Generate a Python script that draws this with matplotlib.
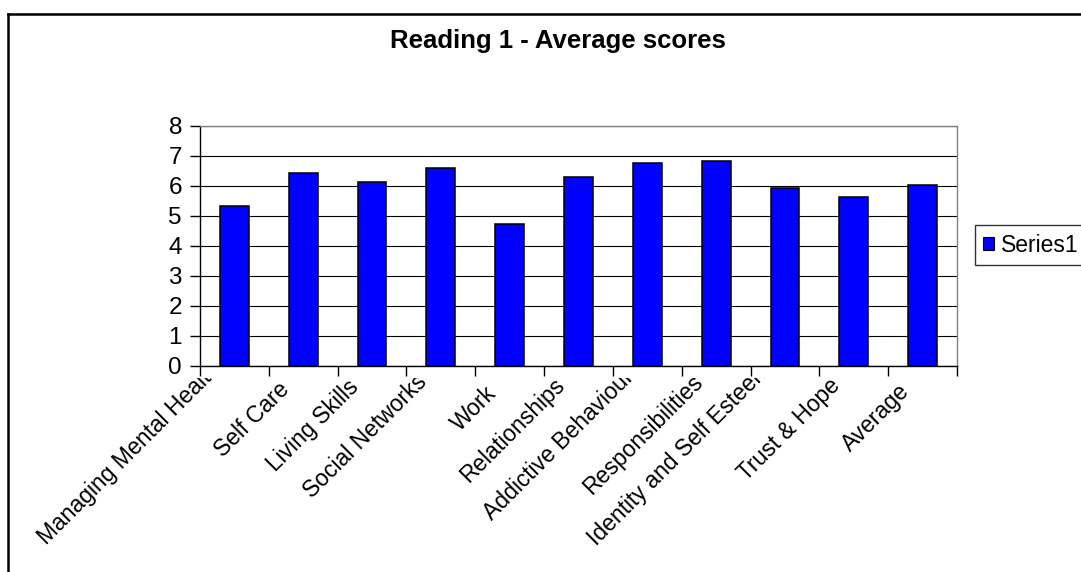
import matplotlib
matplotlib.use("Agg")
import matplotlib.pyplot as plt
import matplotlib.transforms as mtransforms
from matplotlib.lines import Line2D
from matplotlib.patches import Patch

categories = ["Managing Mental Health", "Self Care", "Living Skills", "Social Networks",
              "Work", "Relationships", "Addictive Behaviour", "Responsibilities",
              "Identity and Self Esteem", "Trust & Hope", "Average"]
scores = [5.33, 6.41, 6.11, 6.58, 4.74, 6.29, 6.77, 6.82, 5.92, 5.63, 6.04]
yticks = [0, 1, 2, 3, 4, 5, 6, 7, 8]

plt.rcParams['font.family'] = ['Liberation Sans', 'DejaVu Sans']

W, H = 1081, 572
fig = plt.figure(figsize=(W / 100, H / 100), dpi=100)
ax = fig.add_axes([200 / W, (H - 366) / H, 757 / W, 240.3 / H])

x = list(range(len(categories)))
ax.bar(x, scores, width=0.42, color='#0000FF', edgecolor='black', linewidth=1.1, zorder=3)

ax.set_xlim(-0.5, len(categories) - 0.5)
ax.set_ylim(0, 8)
ax.set_yticks(yticks)
ax.yaxis.grid(True, color='black', linewidth=0.8, zorder=0)

# category boundaries get the tick marks, centres get the labels
ax.set_xticks([i - 0.5 for i in range(len(categories) + 1)], minor=True)
ax.set_xticks(x)
ax.set_xticklabels(categories, rotation=45, ha='right', va='top',
                   rotation_mode='anchor', fontsize=16.5)
ax.tick_params(axis='x', which='major', length=0, pad=0)
ax.tick_params(axis='x', which='minor', length=7, width=1, direction='out')
ax.tick_params(axis='y', length=7, width=1, direction='out', labelsize=17.5, pad=6)

for side in ['top', 'right']:
    ax.spines[side].set_color('#808080')
for side in ['left', 'bottom']:
    ax.spines[side].set_color('black')
for sp in ax.spines.values():
    sp.set_linewidth(1)

fig.text(558 / W, (H - 41) / H, "Reading 1 - Average scores", ha='center', va='center',
         fontsize=18.5, fontweight='bold')

handle = Patch(facecolor='#0000FF', edgecolor='black', linewidth=0.8)
ax.legend([handle], ['Series1'], loc='center left',
          bbox_to_anchor=(975 / W, (H - 245) / H), bbox_transform=fig.transFigure,
          borderaxespad=0, fontsize=16.5, frameon=True, fancybox=False, edgecolor='black',
          handlelength=0.5, handleheight=0.5, handletextpad=0.3, borderpad=0.35)
ax.get_legend().get_frame().set_linewidth(1)

# outer chart border (only top and left show)
fig.add_artist(Line2D([8 / W, 8 / W], [0, (H - 14) / H], color='black', linewidth=1.8,
                      transform=fig.transFigure))
fig.add_artist(Line2D([8 / W, 1], [(H - 14) / H, (H - 14) / H], color='black', linewidth=1.8,
                      transform=fig.transFigure))

# Excel-ish label placement: ends sit left of the centre, long ones ride higher
# and get cut off by the top of the label band
fig.canvas.draw()
renderer = fig.canvas.get_renderer()
clip = mtransforms.Bbox.from_extents(0, 0, W, H - 378)
for i, lab in enumerate(ax.get_xticklabels()):
    bb = lab.get_window_extent(renderer)
    hg = bb.height - 12
    end_y = 393 - 0.09 * hg - 0.0004 * hg ** 2
    top_disp = H - (end_y - 6.3)
    cx = ax.transData.transform((i, 0))[0]
    dx = (cx - 9) - bb.x1
    dy = top_disp - bb.y1
    lab.set_transform(lab.get_transform() + mtransforms.Affine2D().translate(dx, dy))
    lab.set_clip_on(True)
    lab.set_clip_box(clip)

fig.savefig("out.png", dpi=100)
